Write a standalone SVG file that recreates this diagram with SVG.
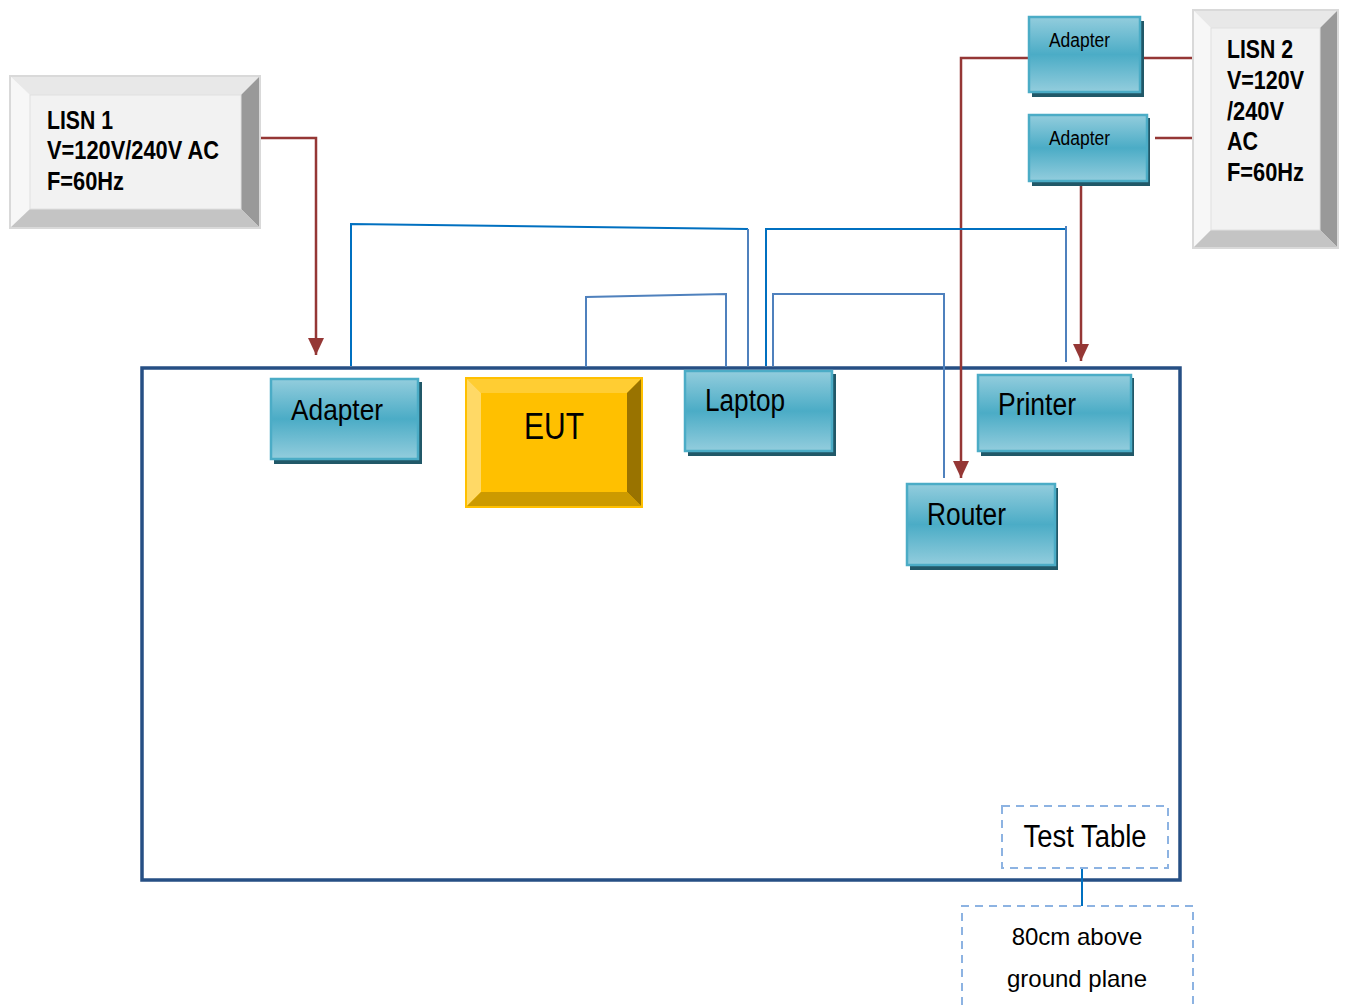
<svg xmlns="http://www.w3.org/2000/svg" width="1345" height="1005" viewBox="0 0 1345 1005">
<defs>
<linearGradient id="teal" x1="0" y1="0" x2="0" y2="1">
<stop offset="0" stop-color="#93cddd"/>
<stop offset="0.5" stop-color="#4bacc6"/>
<stop offset="1" stop-color="#93cddd"/>
</linearGradient>
<marker id="arrd" markerUnits="userSpaceOnUse" markerWidth="18" markerHeight="16" refX="17" refY="8" orient="auto" viewBox="0 0 18 16">
<path d="M0,0 L17,8 L0,16 Z" fill="#953735"/>
</marker>
</defs>
<style>
.tealbox{fill:url(#teal);stroke:#4bacc6;stroke-width:2.5}
.shadow{fill:#215868}
.lbl{font-family:"Liberation Sans",Arial,sans-serif;fill:#000}
.lisn{font-family:"Liberation Sans",Arial,sans-serif;font-weight:bold;font-size:25px;fill:#000}
.red{fill:none;stroke:#953735;stroke-width:2.5}
.blue1{fill:none;stroke:#0070c0;stroke-width:2}
.blue2{fill:none;stroke:#4f81bd;stroke-width:2}
.dash{fill:none;stroke:#8db3e2;stroke-width:2;stroke-dasharray:8,6}
</style>
<rect width="1345" height="1005" fill="#fff"/>

<g id="test-table">
<rect x="142" y="368" width="1038" height="512" fill="none" stroke="#264f84" stroke-width="3.5"/>
</g>

<g id="connectors">
<polyline class="red" points="260,138 316,138 316,355" marker-end="url(#arrd)"/>
<polyline class="red" points="1028,58 961,58 961,478" marker-end="url(#arrd)"/>
<line class="red" x1="1140" y1="58" x2="1193" y2="58"/>
<line class="red" x1="1155" y1="138" x2="1193" y2="138"/>
<polyline class="red" points="1097,181 1081,181 1081,361" marker-end="url(#arrd)"/>
<polyline class="blue1" points="351,366 351,224 748,229"/>
<line class="blue2" x1="748" y1="229" x2="748" y2="366"/>
<polyline class="blue2" points="586,367 586,297 726,294 726,367"/>
<polyline class="blue1" points="766,366 766,229 1066,229"/>
<line class="blue2" x1="1066" y1="226" x2="1066" y2="362"/>
<polyline class="blue2" points="773,366 773,294 944,294 944,478"/>
<line x1="1082" y1="868" x2="1082" y2="906" stroke="#0070c0" stroke-width="2"/>
</g>

<g id="lisn1">
<rect x="10" y="76" width="250" height="152" fill="#f2f2f2" stroke="#d9d9d9" stroke-width="2"/>
<polygon points="10,76 260,76 241,95 30,95" fill="#e8e8e8"/>
<polygon points="10,76 30,95 30,209 10,228" fill="#f7f7f7"/>
<polygon points="260,76 260,228 241,209 241,95" fill="#999999"/>
<polygon points="10,228 260,228 241,209 30,209" fill="#c4c4c4"/>
<rect x="30" y="95" width="211" height="114" fill="#f2f2f2" stroke="#e0e0e0" stroke-width="1"/>
<rect x="10" y="76" width="250" height="152" fill="none" stroke="#d9d9d9" stroke-width="2"/>
<text class="lisn" x="47" y="129" textLength="66" lengthAdjust="spacingAndGlyphs">LISN 1</text>
<text class="lisn" x="47" y="159" textLength="172" lengthAdjust="spacingAndGlyphs">V=120V/240V AC</text>
<text class="lisn" x="47" y="190" textLength="77" lengthAdjust="spacingAndGlyphs">F=60Hz</text>
</g>

<g id="lisn2">
<rect x="1193" y="10" width="145" height="238" fill="#f2f2f2" stroke="#d9d9d9" stroke-width="2"/>
<polygon points="1193,10 1338,10 1320,28 1211,28" fill="#e8e8e8"/>
<polygon points="1193,10 1211,28 1211,230 1193,248" fill="#f7f7f7"/>
<polygon points="1338,10 1338,248 1320,230 1320,28" fill="#999999"/>
<polygon points="1193,248 1338,248 1320,230 1211,230" fill="#c4c4c4"/>
<rect x="1211" y="28" width="109" height="202" fill="#f2f2f2" stroke="#e0e0e0" stroke-width="1"/>
<rect x="1193" y="10" width="145" height="238" fill="none" stroke="#d9d9d9" stroke-width="2"/>
<text class="lisn" x="1227" y="58" textLength="66" lengthAdjust="spacingAndGlyphs">LISN 2</text>
<text class="lisn" x="1227" y="89" textLength="77" lengthAdjust="spacingAndGlyphs">V=120V</text>
<text class="lisn" x="1227" y="120" textLength="57" lengthAdjust="spacingAndGlyphs">/240V</text>
<text class="lisn" x="1227" y="150" textLength="31" lengthAdjust="spacingAndGlyphs">AC</text>
<text class="lisn" x="1227" y="181" textLength="77" lengthAdjust="spacingAndGlyphs">F=60Hz</text>
</g>

<g id="adapter-top">
<rect class="shadow" x="1032" y="21" width="112" height="76"/>
<rect class="tealbox" x="1029" y="17" width="111" height="75"/>
<text class="lbl" x="1049" y="47" font-size="20" textLength="61" lengthAdjust="spacingAndGlyphs">Adapter</text>
</g>

<g id="adapter-mid">
<rect class="shadow" x="1032" y="118" width="118" height="68"/>
<rect class="tealbox" x="1029" y="115" width="118" height="66"/>
<text class="lbl" x="1049" y="145" font-size="20" textLength="61" lengthAdjust="spacingAndGlyphs">Adapter</text>
</g>

<g id="adapter">
<rect class="shadow" x="274" y="382" width="148" height="82"/>
<rect class="tealbox" x="271" y="379" width="147" height="80"/>
<text class="lbl" x="291" y="420" font-size="30" textLength="92" lengthAdjust="spacingAndGlyphs">Adapter</text>
</g>

<g id="eut">
<rect x="466" y="378" width="176" height="129" fill="#ffc000" stroke="#ffc000" stroke-width="2"/>
<polygon points="466,378 642,378 627,393 481,393" fill="#ffcd33"/>
<polygon points="466,378 481,393 481,492 466,507" fill="#ffd966"/>
<polygon points="642,378 642,507 627,492 627,393" fill="#997300"/>
<polygon points="466,507 642,507 627,492 481,492" fill="#cc9a00"/>
<rect x="466" y="378" width="176" height="129" fill="none" stroke="#ffc000" stroke-width="2"/>
<text class="lbl" x="554" y="439" font-size="36" text-anchor="middle" textLength="60" lengthAdjust="spacingAndGlyphs">EUT</text>
</g>

<g id="laptop">
<rect class="shadow" x="688" y="374" width="148" height="82"/>
<rect class="tealbox" x="685" y="371" width="147" height="80"/>
<text class="lbl" x="705" y="411" font-size="31" textLength="80" lengthAdjust="spacingAndGlyphs">Laptop</text>
</g>

<g id="printer">
<rect class="shadow" x="981" y="378" width="153" height="78"/>
<rect class="tealbox" x="978" y="375" width="153" height="76"/>
<text class="lbl" x="998" y="415" font-size="31" textLength="78" lengthAdjust="spacingAndGlyphs">Printer</text>
</g>

<g id="router">
<rect class="shadow" x="910" y="488" width="148" height="82"/>
<rect class="tealbox" x="907" y="484" width="148" height="81"/>
<text class="lbl" x="927" y="525" font-size="31" textLength="79" lengthAdjust="spacingAndGlyphs">Router</text>
</g>

<g id="test-table-label">
<rect class="dash" x="1002" y="806" width="166" height="62"/>
<text class="lbl" x="1085" y="847" font-size="31" text-anchor="middle" textLength="123" lengthAdjust="spacingAndGlyphs">Test Table</text>
</g>

<g id="ground-plane-label">
<path class="dash" d="M962,1005 L962,906 L1193,906 L1193,1005"/>
<text class="lbl" x="1077" y="945" font-size="24" text-anchor="middle">80cm above</text>
<text class="lbl" x="1077" y="987" font-size="24" text-anchor="middle">ground plane</text>
</g>
</svg>
